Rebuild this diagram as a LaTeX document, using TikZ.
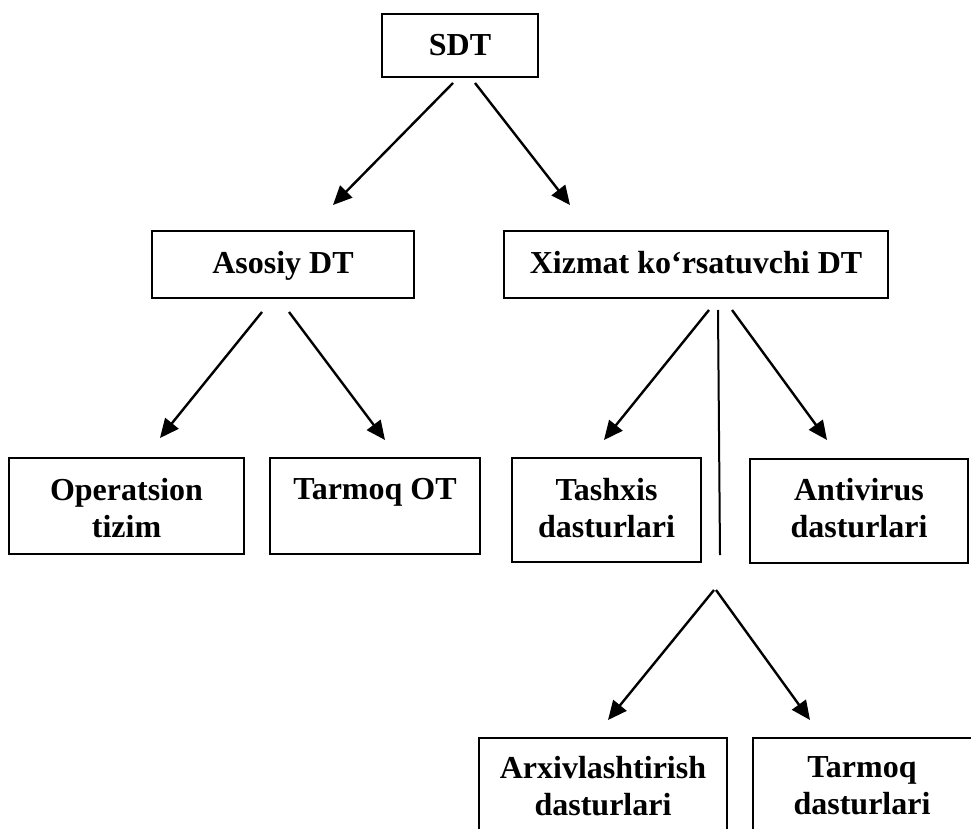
\documentclass[tikz,border=0pt]{standalone}
\usepackage{fontspec}
\setmainfont{Liberation Serif}
\usetikzlibrary{arrows.meta}
\tikzset{
  box/.style={draw, line width=1.8pt, inner sep=0pt},
  txt/.style={inner sep=0pt, align=center, font=\fontsize{32}{37}\selectfont\bfseries},
  arr/.style={line width=2.4pt, -{Triangle[length=19pt,width=17pt]}},
  plain/.style={line width=2pt}
}
\begin{document}
\begin{tikzpicture}[x=1pt,y=-1pt]
\clip (0,0) rectangle (971,829);
% boxes
\node[box, minimum width=156pt, minimum height=63pt] (sdt) at (460,45.5) {};
\node[box, minimum width=262pt, minimum height=67pt] (asosiy) at (283,264.5) {};
\node[box, minimum width=384pt, minimum height=67pt] (xizmat) at (696,264.5) {};
\node[box, minimum width=235pt, minimum height=96pt] (oper) at (126.5,506) {};
\node[box, minimum width=210pt, minimum height=96pt] (tarmoqot) at (375,506) {};
\node[box, minimum width=189pt, minimum height=104pt] (tashxis) at (606.5,510) {};
\node[box, minimum width=218pt, minimum height=104pt] (anti) at (859,511) {};
\node[box, minimum width=248pt, minimum height=120pt] (arxiv) at (603,798) {};
\node[box, minimum width=237pt, minimum height=120pt] (tarmoqd) at (871.5,798) {};
% texts
\node[txt, anchor=base] (sdtt) at (sdt.center |- 0,56) {SDT};
\node[txt, anchor=base] (asosiyt) at (asosiy.center |- 0,273) {Asosiy DT};
\node[txt, anchor=base] (xizmatt) at (xizmat.center |- 0,273) {Xizmat koʻrsatuvchi DT};
\node[txt, anchor=north] (opert) at (oper.center |- 0,478) {Operatsion\\tizim};
\node[txt, anchor=north] (tarmoqott) at (tarmoqot.center |- 0,478) {Tarmoq OT};
\node[txt, anchor=north] (tashxist) at (tashxis.center |- 0,478) {Tashxis\\dasturlari};
\node[txt, anchor=north] (antit) at (anti.center |- 0,478) {Antivirus\\dasturlari};
\node[txt, anchor=north] (arxivt) at (arxiv.center |- 0,756) {Arxivlashtirish\\dasturlari};
\node[txt, anchor=north] (tarmoqdt) at (862,756) {Tarmoq\\dasturlari};
% connector end points
\coordinate (s1) at (453,83);  \coordinate (e1) at (333,205);
\coordinate (s2) at (475,83);  \coordinate (e2) at (570,205);
\coordinate (s3) at (262,312); \coordinate (e3) at (160,438);
\coordinate (s4) at (289,312); \coordinate (e4) at (385,440);
\coordinate (s5) at (709,310); \coordinate (e5) at (604,440);
\coordinate (s6) at (732,310); \coordinate (e6) at (827,440);
\coordinate (v1) at (718,310); \coordinate (v2) at (720,555);
\coordinate (s7) at (714,590); \coordinate (e7) at (608,720);
\coordinate (s8) at (716,590); \coordinate (e8) at (810,720);
% connectors
\draw[arr] (s1) -- (e1);
\draw[arr] (s2) -- (e2);
\draw[arr] (s3) -- (e3);
\draw[arr] (s4) -- (e4);
\draw[arr] (s5) -- (e5);
\draw[arr] (s6) -- (e6);
\draw[plain] (v1) -- (v2);
\draw[arr] (s7) -- (e7);
\draw[arr] (s8) -- (e8);
\end{tikzpicture}
\end{document}
